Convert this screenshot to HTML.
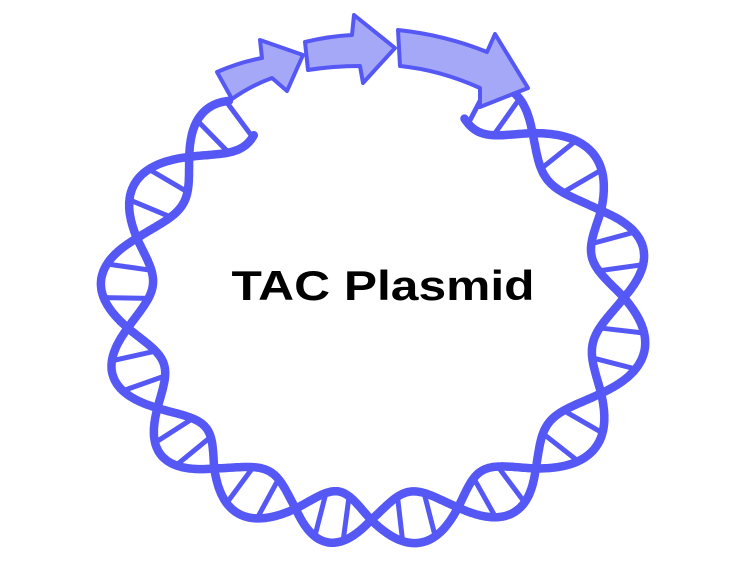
<!DOCTYPE html>
<html><head><style>
html,body{margin:0;padding:0;background:#fff;}
svg{display:block;}
</style></head><body>
<svg id="s" width="750" height="586" viewBox="0 0 750 586" xmlns="http://www.w3.org/2000/svg">
<g id="helix" fill="none" stroke="#5558f5" stroke-linecap="round"></g>
<g fill="#a5a8f7" stroke="#5558f5" stroke-width="4" stroke-linejoin="round">
<path d="M217,72 Q240,62 262,58 L260,40 L303,55 L287,91 L272,78 Q250,86 232,99 Z"/>
<path d="M305,42 Q330,36 352,35 L354,15 L395,48 L363,83 L360,66 Q333,66 308,70 Z"/>
<path d="M398,30 Q445,35 487,52 L495,34 L528,88 L480,107 L480,88 Q440,70 400,66 Z"/>
</g>
<text x="383" y="300" text-anchor="middle" font-family="Liberation Sans, Arial, sans-serif" font-weight="bold" font-size="42" textLength="303" lengthAdjust="spacingAndGlyphs">TAC Plasmid</text>
</svg>
<script>
(function(){
var g=document.getElementById('helix');
var cx=375,cy=302,rx=249,ry=218,A=26;
var C=[-70,-47,-22,-1,22,46,68,91,111,134,154,174,195,218,241];
var D=Math.PI/180;
function phase(t){
 for(var i=0;i<C.length-1;i++){ if(t<=C[i+1]||i==C.length-2){return Math.PI*(i+(t-C[i])/(C[i+1]-C[i]));}}
}
function pt(t,s){
 var c=Math.cos(t*D),sn=Math.sin(t*D);
 var r=1/Math.sqrt(c*c/(rx*rx)+sn*sn/(ry*ry));
 var d=s*A*Math.sin(phase(t));
 return [cx+(r+d)*c,cy+(r+d)*sn];
}
var ns='http://www.w3.org/2000/svg';
var t0=-64,t1=234;
[1,-1].forEach(function(s){
 var d='';
 for(var i=0;i<=1500;i++){var t=t0+(t1-t0)*i/1500;
  var p=pt(t,s);d+=(i?'L':'M')+p[0].toFixed(1)+','+p[1].toFixed(1);}
 var e=document.createElementNS(ns,'path');e.setAttribute('d',d);e.setAttribute('stroke-width','8.5');g.appendChild(e);
});
for(var m=0;m<C.length-1;m++){
 [0.33,0.67].forEach(function(f){
  var t=C[m]+f*(C[m+1]-C[m]);
  if(t<t0||t>t1)return;
  var a=pt(t,1),b=pt(t,-1);
  var e=document.createElementNS(ns,'line');
  e.setAttribute('x1',a[0]);e.setAttribute('y1',a[1]);e.setAttribute('x2',b[0]);e.setAttribute('y2',b[1]);
  e.setAttribute('stroke-width','5');g.appendChild(e);
 });
}
})();
</script>
</body></html>
